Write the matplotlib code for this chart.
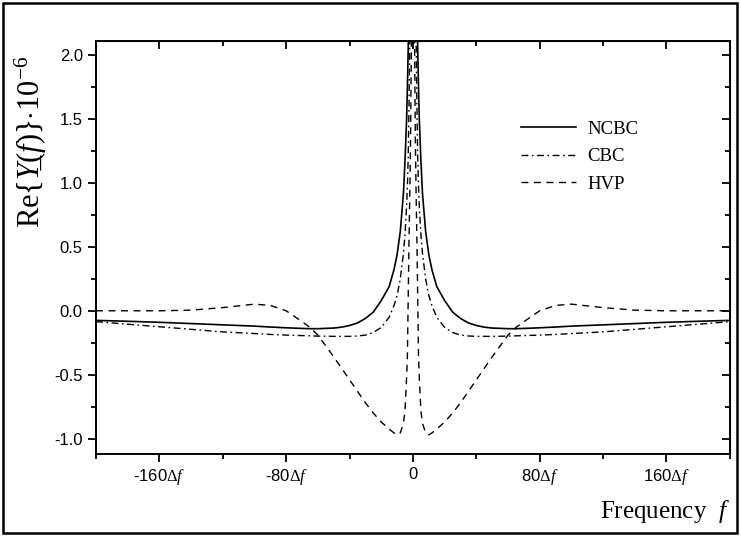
import matplotlib
matplotlib.use("Agg")
import matplotlib.pyplot as plt
from matplotlib.patches import Rectangle
from matplotlib.ticker import FixedLocator

# frequency grid in units of delta f
freq = [-200, -180, -160, -140, -120, -100, -90, -80, -70, -65, -60, -50, -45, -40, -35, -30,
        -25, -20, -15, -12, -10, -8, -6, -5, -4, -3.5, -3, -2.5, -2, -1.5, -1,
        0,
        1, 1.5, 2, 2.5, 3, 3.5, 4, 5, 6, 8, 10, 12, 15, 20, 25,
        30, 35, 40, 45, 50, 60, 65, 70, 80, 90, 100, 120, 140, 160, 180, 200]

# Re{Y(f)} * 1e-6
ncbc = [-0.075, -0.082, -0.09, -0.10, -0.11, -0.12, -0.127, -0.133, -0.138, -0.14, -0.14, -0.135, -0.128, -0.115, -0.095, -0.06,
        -0.01, 0.08, 0.19, 0.32, 0.44, 0.62, 0.92, 1.18, 1.5, 1.75, 2.05, 2.5, 2.9, 3.2, 3.6,
        4.0,
        3.6, 3.2, 2.9, 2.5, 2.05, 1.75, 1.5, 1.18, 0.92, 0.62, 0.44, 0.32, 0.19, 0.08, -0.01,
        -0.06, -0.095, -0.115, -0.128, -0.135, -0.14, -0.14, -0.138, -0.133, -0.127, -0.12, -0.11, -0.10, -0.09, -0.082, -0.075]

cbc = [-0.085, -0.105, -0.125, -0.145, -0.165, -0.178, -0.185, -0.19, -0.194, -0.196, -0.198, -0.20, -0.20, -0.20, -0.197, -0.19,
       -0.17, -0.13, -0.05, 0.04, 0.12, 0.25, 0.45, 0.6, 0.82, 0.98, 1.2, 1.6, 2.1, 2.7, 3.4,
       4.5,
       3.4, 2.7, 2.1, 1.6, 1.2, 0.98, 0.82, 0.6, 0.45, 0.25, 0.12, 0.04, -0.05, -0.13, -0.17,
       -0.19, -0.197, -0.20, -0.20, -0.20, -0.198, -0.196, -0.194, -0.19, -0.185, -0.178, -0.165, -0.145, -0.125, -0.105, -0.085]

hvp = [0.0, 0.0, 0.0, 0.005, 0.025, 0.052, 0.042, 0.0, -0.085, -0.13, -0.19, -0.36, -0.45, -0.54, -0.63, -0.72,
       -0.80, -0.87, -0.925, -0.955, -0.97, -0.955, -0.88, -0.78, -0.52, -0.35, 0.1, 0.55, 0.9, 1.35, 2.1,
       5.0,
       2.1, 1.35, 0.9, 0.55, 0.1, -0.35, -0.52, -0.78, -0.88, -0.955, -0.97, -0.955, -0.925, -0.87, -0.80,
       -0.72, -0.63, -0.54, -0.45, -0.36, -0.19, -0.13, -0.085, 0.0, 0.042, 0.052, 0.025, 0.005, 0.0, 0.0, 0.0]

x_ticks = [-160, -80, 0, 80, 160]
x_tick_labels = [r"-160$\mathit{\Delta}f$", r"-80$\mathit{\Delta}f$", "0",
                 r"80$\mathit{\Delta}f$", r"160$\mathit{\Delta}f$"]
x_minor = [-200, -120, -40, 40, 120, 200]
y_ticks = [-1.0, -0.5, 0.0, 0.5, 1.0, 1.5, 2.0]
y_tick_labels = ["-1.0", "-0.5", "0.0", "0.5", "1.0", "1.5", "2.0"]
y_minor = [-0.75, -0.25, 0.25, 0.75, 1.25, 1.75]

plt.rcParams['font.family'] = ['Liberation Sans', 'DejaVu Sans']
plt.rcParams['mathtext.fontset'] = 'custom'
plt.rcParams['mathtext.rm'] = 'Liberation Serif'
plt.rcParams['mathtext.it'] = 'Liberation Serif:italic'
plt.rcParams['axes.unicode_minus'] = False

fig = plt.figure(figsize=(7.41, 5.36), dpi=100)
ax = fig.add_axes([0.1296, 0.153, 0.8554, 0.7705])

ax.plot(freq, ncbc, color='black', lw=1.2, linestyle='-', label='NCBC')
ax.plot(freq, cbc, color='black', lw=1.0, linestyle=(0, (5, 2.5, 1.2, 2.5)), label='CBC')
ax.plot(freq, hvp, color='black', lw=1.0, linestyle=(0, (5, 4)), label='HVP')

ax.set_xlim(-200, 200)
ax.set_ylim(-1.12, 2.11)

ax.set_xticks(x_ticks)
ax.set_xticklabels(x_tick_labels, fontsize=12)
ax.xaxis.set_minor_locator(FixedLocator(x_minor))
ax.set_yticks(y_ticks)
ax.set_yticklabels(y_tick_labels, fontsize=12)
ax.yaxis.set_minor_locator(FixedLocator(y_minor))
ax.tick_params(which='major', direction='out', length=6, width=1.3)
ax.tick_params(which='minor', direction='out', length=3.5, width=1.3)
for s in ax.spines.values():
    s.set_linewidth(1.4)

# inward ticks on the top and right sides
top = ax.secondary_xaxis('top')
top.set_xticks(x_ticks)
top.xaxis.set_minor_locator(FixedLocator(x_minor))
top.tick_params(which='major', direction='in', length=6, width=1.3, labeltop=False)
top.tick_params(which='minor', direction='in', length=3.5, width=1.3)
right = ax.secondary_yaxis('right')
right.set_yticks(y_ticks)
right.yaxis.set_minor_locator(FixedLocator(y_minor))
right.tick_params(which='major', direction='in', length=6, width=1.3, labelright=False)
right.tick_params(which='minor', direction='in', length=3.5, width=1.3)

ax.set_xlabel("Frequency  $f$", fontsize=18, fontfamily='Liberation Serif', loc='right', labelpad=8)
# underlined Y via a combining low line
ax.set_ylabel("Re{$\\mathit{Y}$\u0332($f$)}$\\cdot$10$^{-6}$", fontsize=22,
              fontfamily='Liberation Serif', loc='top')
ax.yaxis.set_label_coords(-0.074, 0.965)

ax.legend(loc='upper left', bbox_to_anchor=(0.658, 0.825), frameon=False,
          prop={'family': 'Liberation Serif', 'size': 13.5},
          handlelength=2.95, labelspacing=0.55, handletextpad=0.6, borderaxespad=0)

# frame around the whole figure
fig.patches.append(Rectangle((0.004, 0.005), 0.991, 0.99, transform=fig.transFigure,
                             fill=False, edgecolor='black', lw=1.8))

plt.savefig("out.png", dpi=100)
